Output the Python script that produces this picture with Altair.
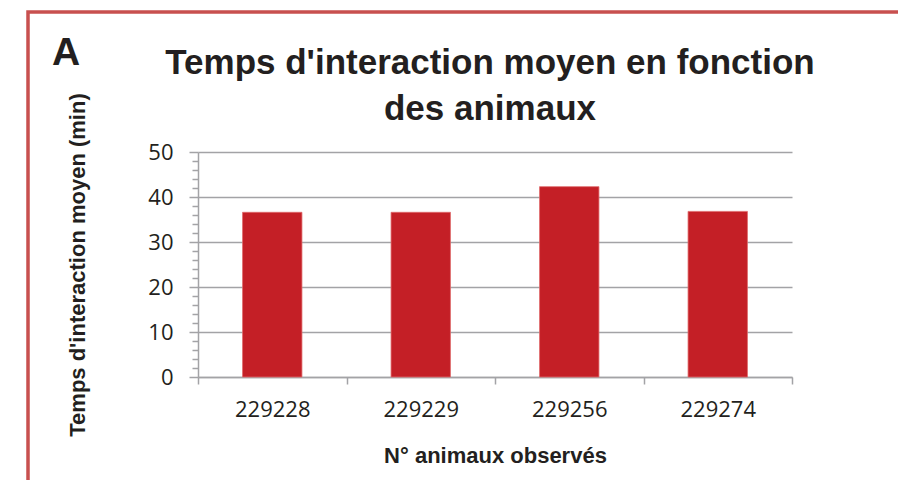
import altair as alt
import pandas as pd

# ---- data ----
animals = ["229228", "229229", "229256", "229274"]
mean_minutes = [36.6, 36.6, 42.3, 36.8]
y_major_ticks = [0, 10, 20, 30, 40, 50]
y_minor_ticks = [2, 4, 6, 8, 12, 14, 16, 18, 22, 24, 26, 28,
                 32, 34, 36, 38, 42, 44, 46, 48]
title_lines = ["Temps d'interaction moyen en fonction", "des animaux"]
panel_label = ["A"]

df = pd.DataFrame({"animal": animals, "minutes": mean_minutes})

BOLD = "Liberation Sans"
TXT = "#231f20"
GRAY = "#A3A3A6"
BAR = "#C41F26"
FRAME = "#C8504F"

yscale = alt.Scale(domain=[0, 50], nice=False)
xscale = alt.Scale(paddingInner=0, paddingOuter=0)

x_enc = alt.X(
    "animal:N", sort=animals, scale=xscale,
    axis=alt.Axis(title="N° animaux observés", labelAngle=0, tickBand="extent",
                  tickSize=7, labelPadding=15, titlePadding=25, grid=False),
)

bars = alt.Chart(df).mark_bar(
    color=BAR, width=alt.RelativeBandSize(0.4), stroke="#E06A6C", strokeWidth=0.8
).encode(
    x=x_enc,
    y=alt.Y("minutes:Q", scale=yscale,
            axis=alt.Axis(values=y_major_ticks, title="Temps d'interaction moyen (min)",
                          tickSize=9, labelPadding=16, titlePadding=58, grid=True,
                          orient="left")),
)

minor = alt.Chart(df).mark_bar(opacity=0).encode(
    x=x_enc,
    y=alt.Y("minutes:Q", scale=yscale,
            axis=alt.Axis(values=y_minor_ticks, labels=False, domain=False, grid=False,
                          tickSize=6, title=None, orient="left")),
)

frame = alt.Chart(pd.DataFrame({"f": [0]})).mark_rect(
    fillOpacity=0, stroke=FRAME, strokeWidth=3.5, clip=False
).encode(
    x=alt.value(-170), x2=alt.value(800), y=alt.value(-140), y2=alt.value(400)
)

label = alt.Chart(pd.DataFrame({"label": panel_label})).mark_text(
    font=BOLD, fontSize=39, fontWeight="bold", align="left", baseline="alphabetic",
    color=TXT
).encode(text="label:N", x=alt.value(-146), y=alt.value(-87))

chart = alt.layer(frame, bars, minor, label).resolve_axis(y="independent").properties(
    width=594, height=225,
    title=alt.TitleParams(text=title_lines, font=BOLD, fontSize=35, fontWeight="bold",
                          color=TXT, anchor="middle", frame="group", lineHeight=46,
                          offset=-117, dx=-5),
    autosize=alt.AutoSizeParams(type="none"),
    padding={"left": 190, "top": 144, "right": 106, "bottom": 103},
).configure_view(strokeOpacity=0).configure_axis(
    labelFont="Open Sans", labelFontSize=22, labelColor=TXT,
    titleFont=BOLD, titleFontSize=22, titleFontWeight="bold", titleColor=TXT,
    domainColor=GRAY, tickColor=GRAY, gridColor=GRAY,
    domainWidth=1.5, tickWidth=1.5, gridWidth=1.5,
)

chart.save("out.html", embed_options={"renderer": "svg", "actions": False})
